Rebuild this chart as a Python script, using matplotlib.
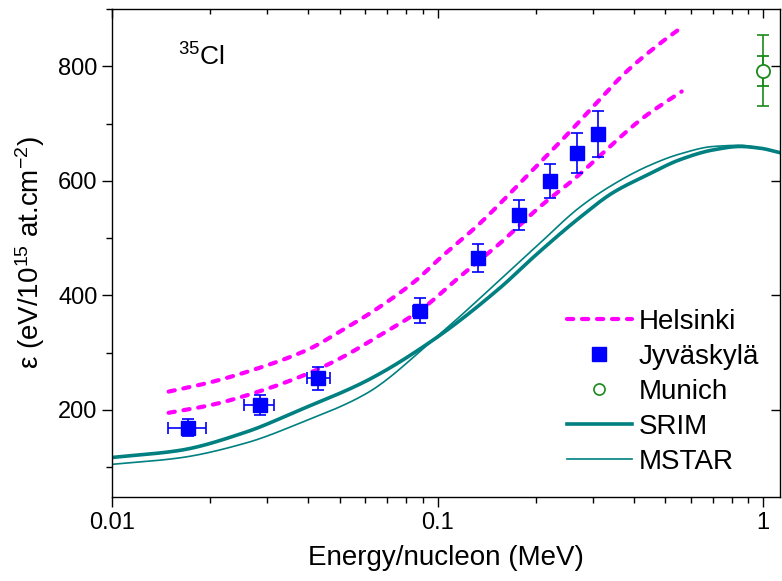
import matplotlib
matplotlib.use('Agg')
import matplotlib.pyplot as plt
import numpy as np
from matplotlib.ticker import FixedLocator, FuncFormatter, MultipleLocator, NullFormatter, NullLocator

plt.rcParams['font.family'] = ['Liberation Sans', 'DejaVu Sans']
plt.rcParams['mathtext.default'] = 'regular'

# ---- data ----
hel_up_E = [0.01493, 0.0203, 0.0289, 0.0402, 0.0502, 0.0665, 0.0862, 0.1018, 0.1351,
            0.1792, 0.2494, 0.301, 0.381, 0.4827, 0.5625]
hel_up = [232, 249, 275, 306, 337, 380, 427, 465, 526, 596, 680, 730, 791, 840, 868]

hel_lo_E = [0.01493, 0.0203, 0.0282, 0.0402, 0.0502, 0.0682, 0.0880, 0.1173, 0.1556,
            0.2065, 0.2677, 0.3224, 0.428, 0.5625]
hel_lo = [195, 209, 232, 264, 290, 334, 373, 433, 491, 555, 607, 649, 710, 756]

jyv_E = [0.01716, 0.0285, 0.04305, 0.0884, 0.1329, 0.178, 0.2223, 0.2676, 0.312]
jyv = [169, 209, 255, 373, 465, 541, 600, 648, 682]
jyv_err = [15, 17, 20, 22, 24, 26, 30, 35, 40]
jyv_Elo = [0.01486, 0.02545, 0.0398, 0.0841, 0.1329, 0.178, 0.2223, 0.2676, 0.312]
jyv_Ehi = [0.01945, 0.03146, 0.0467, 0.0906, 0.1329, 0.178, 0.2223, 0.2676, 0.312]

mun_E = [1.0]
mun = [792]
mun_err_tot = [62]
mun_err_stat = [26]

srim_E = [0.01, 0.016, 0.0257, 0.0378, 0.0606, 0.0969, 0.1555, 0.2, 0.275, 0.345,
          0.44, 0.556, 0.703, 0.85, 0.98, 1.13]
srim = [117, 129, 161, 200, 251, 322, 413, 470, 537, 579, 610, 637, 654, 660, 657, 649]

mstar_E = [0.01, 0.016, 0.0257, 0.0378, 0.0606, 0.0969, 0.1555, 0.2, 0.275, 0.345,
           0.44, 0.556, 0.703, 0.85, 0.98, 1.13]
mstar = [105, 116, 142, 177, 229, 322, 427, 484, 555, 593, 625, 647, 660, 662, 657, 650]

x_major = [0.01, 0.1, 1]
x_minor = [m * d for d in (0.01, 0.1) for m in range(2, 10)]
y_major = [200, 400, 600, 800]
xlim = (0.01, 1.127)
ylim = (48, 900)


def smooth(E, v, n=300):
    """Monotone cubic (PCHIP) curve through the read points, in log10(E)."""
    x = np.log10(np.asarray(E, float))
    y = np.asarray(v, float)
    h = np.diff(x)
    d = np.diff(y) / h
    m = np.zeros_like(y)
    for k in range(1, len(y) - 1):
        if d[k - 1] * d[k] > 0:
            w1 = 2 * h[k] + h[k - 1]
            w2 = h[k] + 2 * h[k - 1]
            m[k] = (w1 + w2) / (w1 / d[k - 1] + w2 / d[k])
    m[0] = d[0]
    m[-1] = d[-1]
    xn = np.linspace(x[0], x[-1], n)
    idx = np.clip(np.searchsorted(x, xn) - 1, 0, len(h) - 1)
    t = (xn - x[idx]) / h[idx]
    h00 = 2 * t**3 - 3 * t**2 + 1
    h10 = t**3 - 2 * t**2 + t
    h01 = -2 * t**3 + 3 * t**2
    h11 = t**3 - t**2
    yn = h00 * y[idx] + h10 * h[idx] * m[idx] + h01 * y[idx + 1] + h11 * h[idx] * m[idx + 1]
    return 10 ** xn, yn


# ---- figure ----
fig = plt.figure(figsize=(7.82, 5.81), dpi=100)
pos = [0.1432, 0.1446, 0.8542, 0.8399]
ax = fig.add_axes(pos)

teal = '#008080'
mag = '#FF00FF'
blue = '#0000FF'
grn = '#1a8a1a'

ax.plot(*smooth(srim_E, srim), color=teal, lw=2.6, zorder=2)
ax.plot(*smooth(mstar_E, mstar), color=teal, lw=1.2, zorder=2)

for E, v in ((hel_up_E, hel_up), (hel_lo_E, hel_lo)):
    ax.plot(*smooth(E, v), color=mag, lw=3.0, dashes=(1.5, 2.1), dash_capstyle='round', zorder=3)

xerr_lo = [e - l for e, l in zip(jyv_E, jyv_Elo)]
xerr_hi = [h - e for e, h in zip(jyv_E, jyv_Ehi)]
ax.errorbar(jyv_E, jyv, yerr=jyv_err, xerr=[xerr_lo, xerr_hi], fmt='s', color=blue,
            ms=9.5, elinewidth=1.2, capsize=4, capthick=1.2, zorder=4)

ax.errorbar(mun_E, mun, yerr=mun_err_tot, fmt='none', ecolor=grn, elinewidth=1.2,
            capsize=4.5, capthick=1.2, zorder=4)
ax.errorbar(mun_E, mun, yerr=mun_err_stat, fmt='o', color=grn, mfc='white', mec=grn,
            ms=9.5, mew=1.3, elinewidth=1.2, capsize=4.5, capthick=1.2, zorder=5)

# legend proxies
h1, = ax.plot([], [], color=mag, lw=3.0, dashes=(1.5, 2.1), dash_capstyle='round', label='Helsinki')
h2, = ax.plot([], [], 's', color=blue, ms=9.5, label='Jyväskylä')
h3, = ax.plot([], [], 'o', color=grn, mfc='white', ms=8, mew=1.2, label='Munich')
h4, = ax.plot([], [], color=teal, lw=2.6, label='SRIM')
h5, = ax.plot([], [], color=teal, lw=1.2, label='MSTAR')
ax.legend(handles=[h1, h2, h3, h4, h5], loc='upper left', bbox_to_anchor=(0.6807, 0.385),
          frameon=False, fontsize=20, handlelength=2.35, handletextpad=0.25,
          labelspacing=0.32, borderpad=0, borderaxespad=0, numpoints=1)

ax.set_xscale('log')
ax.set_xlim(*xlim)
ax.set_ylim(*ylim)

ax.xaxis.set_major_locator(FixedLocator(x_major))
ax.xaxis.set_major_formatter(FuncFormatter(lambda v, p: f'{v:g}'))
ax.xaxis.set_minor_locator(FixedLocator(x_minor))
ax.xaxis.set_minor_formatter(NullFormatter())
ax.yaxis.set_major_locator(FixedLocator(y_major))
ax.yaxis.set_minor_locator(MultipleLocator(100))

for s in ax.spines.values():
    s.set_linewidth(1.0)
ax.tick_params(which='both', direction='out', top=False, right=False, width=1.0, labelsize=17)
ax.tick_params(which='major', length=7)
ax.tick_params(which='minor', length=4)

ax.set_xlabel('Energy/nucleon (MeV)', fontsize=20, labelpad=8)
ax.set_ylabel('ε (eV/10$^{15}$ at.cm$^{-2}$)', fontsize=20, labelpad=8)

ax.text(0.0988, 0.8838, '$^{35}$Cl', transform=ax.transAxes, fontsize=19, va='baseline', ha='left')

# independent overlay axes for inward ticks on top/right
ax2 = fig.add_axes(pos, frameon=False)
ax2.patch.set_visible(False)
ax2.set_xscale('log')
ax2.set_xlim(*xlim)
ax2.set_ylim(*ylim)
ax2.xaxis.set_major_locator(FixedLocator(x_major))
ax2.xaxis.set_minor_locator(FixedLocator(x_minor))
ax2.yaxis.set_major_locator(FixedLocator(y_major))
ax2.yaxis.set_minor_locator(NullLocator())
ax2.tick_params(which='both', direction='in', top=True, right=True, bottom=False, left=False,
                labelbottom=False, labelleft=False, labeltop=False, labelright=False, width=1.0)
ax2.tick_params(which='major', length=6.5)
ax2.tick_params(which='minor', length=3.5)

fig.savefig('out.png', dpi=100)
